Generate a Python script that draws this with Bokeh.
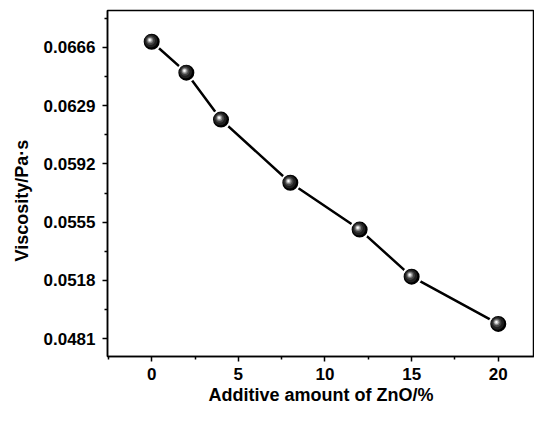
from bokeh.plotting import figure
from bokeh.models import ColumnDataSource, FixedTicker, Range1d, Title
from bokeh.transform import dodge
from bokeh.embed import file_html
from bokeh.resources import INLINE

# data
zno = [0, 2, 4, 8, 12, 15, 20]
viscosity = [0.06695, 0.06499, 0.06201, 0.05800, 0.05503, 0.05204, 0.04904]

x_ticks = [0, 5, 10, 15, 20]
x_minor = [-2.5, 2.5, 7.5, 12.5, 17.5, 22.5]
y_ticks = [0.0481, 0.0518, 0.0555, 0.0592, 0.0629, 0.0666]
y_tick_labels = ["0.0481", "0.0518", "0.0555", "0.0592", "0.0629", "0.0666"]
y_minor = [0.04625, 0.04995, 0.05365, 0.05735, 0.06105, 0.06475, 0.06845]

x_title = "Additive amount of ZnO/%"
y_title = "Viscosity/Pa·s"

FONT = "Liberation Sans"

src = ColumnDataSource(data=dict(x=zno, y=viscosity))

p = figure(width=534, height=407, output_backend="svg", toolbar_location=None,
           x_range=Range1d(-2.55, 22.09), y_range=Range1d(0.046974, 0.068934))
p.min_border_left = 107
p.min_border_right = 0
p.min_border_top = 10
p.min_border_bottom = 50
p.background_fill_color = "white"
p.border_fill_color = "white"
p.grid.visible = False
p.outline_line_color = "black"
p.outline_line_width = 1.5

p.xaxis.ticker = FixedTicker(ticks=x_ticks, minor_ticks=x_minor)
p.yaxis.ticker = FixedTicker(ticks=y_ticks, minor_ticks=y_minor)
p.yaxis.major_label_overrides = {t: l for t, l in zip(y_ticks, y_tick_labels)}

for ax in (p.xaxis[0], p.yaxis[0]):
    ax.axis_line_width = 1.5
    ax.axis_line_color = "black"
    ax.major_tick_line_width = 1.5
    ax.minor_tick_line_width = 1.5
    ax.major_tick_line_color = "black"
    ax.minor_tick_line_color = "black"
    ax.major_tick_out = 5
    ax.major_tick_in = 0
    ax.minor_tick_out = 3
    ax.minor_tick_in = 0
    ax.major_label_text_font = FONT
    ax.major_label_text_font_style = "bold"
    ax.major_label_text_font_size = "17px"
    ax.major_label_text_color = "black"
    ax.axis_label_text_font = FONT
    ax.axis_label_text_font_style = "bold"
    ax.axis_label_text_font_size = "18px"
    ax.axis_label_text_color = "black"

p.xaxis.axis_label = x_title
p.xaxis.major_label_standoff = 6
p.xaxis.axis_label_standoff = 2
p.yaxis.major_label_standoff = 7

yt = Title(text=y_title, align="left", offset=95, standoff=18,
           text_font=FONT, text_font_style="bold", text_font_size="18px",
           text_color="black")
p.add_layout(yt, "left")

p.line("x", "y", source=src, line_color="black", line_width=2.5)

# glossy sphere markers built from layered circles
px_x = 1 / 17.335
px_y = 1 / 15984
p.scatter("x", "y", source=src, size=18, fill_color="black",
          line_color="white", line_width=2)
layers = [(13, "#202020", 0.8), (9, "#444444", 1.3), (6, "#808080", 1.6),
          (4, "#c8c8c8", 1.8), (2, "#ffffff", 1.9)]
for s, c, off in layers:
    p.scatter(dodge("x", -off * px_x, range=p.x_range),
              dodge("y", off * px_y, range=p.y_range),
              source=src, size=s, fill_color=c, line_color=None)

open("out.html", "w").write(file_html(p, INLINE))
